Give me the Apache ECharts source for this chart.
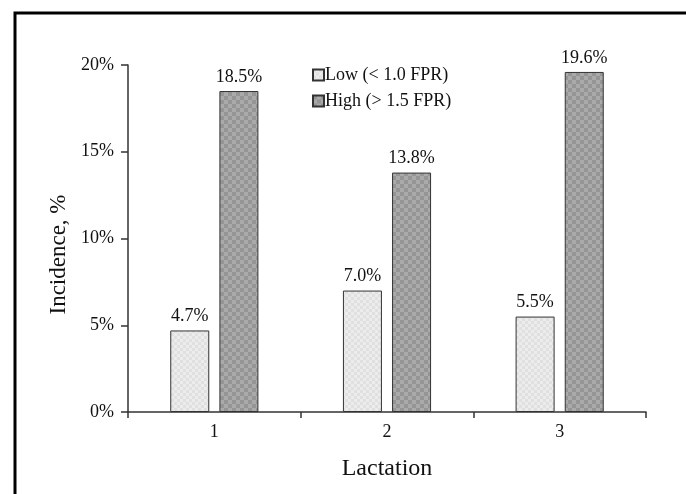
<!DOCTYPE html>
<html><head><meta charset="utf-8">
<script src="https://cdn.jsdelivr.net/npm/echarts@6/dist/echarts.min.js"></script>
<style>html,body{margin:0;padding:0;background:#fff}#c{width:686px;height:494px}</style>
</head><body><div id="c"></div>
<script>
const categories = ['1', '2', '3'];
const lowValues = [4.7, 7.0, 5.5];
const highValues = [18.5, 13.8, 19.6];
const seriesNames = ['Low (< 1.0 FPR)', 'High (> 1.5 FPR)'];
const yTicks = [0, 5, 10, 15, 20];

function makePattern(c1, c2, size) {
  const cv = document.createElement('canvas');
  cv.width = size * 2; cv.height = size * 2;
  const ctx = cv.getContext('2d');
  ctx.fillStyle = c1; ctx.fillRect(0, 0, size * 2, size * 2);
  ctx.fillStyle = c2;
  ctx.fillRect(0, 0, size, size);
  ctx.fillRect(size, size, size, size);
  return { image: cv, repeat: 'repeat' };
}
const lowPattern = makePattern('#ececec', '#e0e0e0', 3);
const highPattern = makePattern('#aaaaaa', '#959595', 4);

const font = 'Liberation Serif';
const chart = echarts.init(document.getElementById('c'), null, { renderer: 'canvas' });
chart.setOption({
  backgroundColor: '#fff',
  animation: false,
  textStyle: { fontFamily: font, color: '#111' },
  graphic: [{
    type: 'rect', shape: { x: 15, y: 13, width: 700, height: 520 },
    style: { fill: 'none', stroke: '#000', lineWidth: 3 }, silent: true, z: 100
  }],
  grid: { left: 128, right: 40, top: 65, bottom: 82, containLabel: false },
  legend: {
    orient: 'vertical', left: 307, top: 61, itemWidth: 11, itemHeight: 11, itemGap: 8,
    icon: 'rect',
    textStyle: { fontFamily: font, fontSize: 18, color: '#111', padding: [0, 0, 0, -4] },
    data: seriesNames
  },
  xAxis: {
    type: 'category', data: categories,
    name: 'Lactation', nameLocation: 'middle', nameGap: 45,
    nameTextStyle: { fontFamily: font, fontSize: 24, color: '#111' },
    axisLine: { lineStyle: { color: '#333', width: 1.5 } },
    axisTick: { show: true, length: 6, lineStyle: { color: '#333', width: 1.5 } },
    axisLabel: { fontFamily: font, fontSize: 18, color: '#111', margin: 11 }
  },
  yAxis: {
    type: 'value', min: yTicks[0], max: yTicks[yTicks.length - 1], interval: 5,
    name: 'Incidence, %', nameLocation: 'middle', nameGap: 55,
    nameTextStyle: { fontFamily: font, fontSize: 23, color: '#111', padding: [0, 32, 0, 0] },
    axisLine: { show: true, lineStyle: { color: '#333', width: 1.5 } },
    axisTick: { show: true, length: 7, lineStyle: { color: '#333', width: 1.5 } },
    splitLine: { show: false },
    axisLabel: { fontFamily: font, fontSize: 18, color: '#111', margin: 14, formatter: '{value}%' }
  },
  series: [
    {
      name: seriesNames[0], type: 'bar', data: lowValues, barWidth: 39, barGap: '26%',
      itemStyle: { color: lowPattern, borderColor: '#333', borderWidth: 1 },
      label: { show: true, position: 'top', distance: 5, fontFamily: font, fontSize: 18, color: '#111',
        formatter: p => p.value.toFixed(1) + '%' }
    },
    {
      name: seriesNames[1], type: 'bar', data: highValues, barWidth: 39,
      itemStyle: { color: highPattern, borderColor: '#333', borderWidth: 1 },
      label: { show: true, position: 'top', distance: 5, fontFamily: font, fontSize: 18, color: '#111',
        formatter: p => p.value.toFixed(1) + '%' }
    }
  ]
});
</script></body></html>
